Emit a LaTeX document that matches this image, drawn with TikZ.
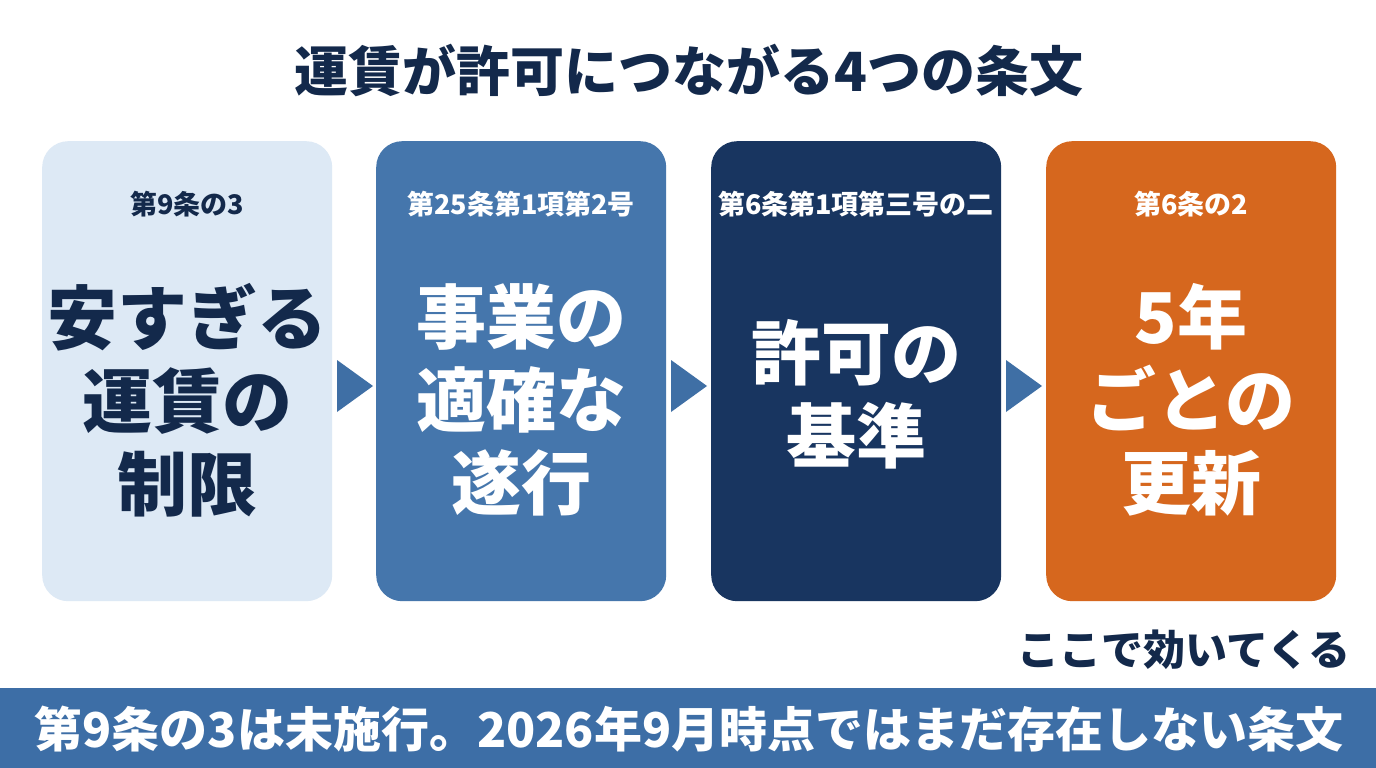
\documentclass[tikz,border=0pt]{standalone}
\usepackage{fontspec}
\setmainfont{Noto Sans CJK JP}
\definecolor{navy}{HTML}{13294B}
\definecolor{lightb}{HTML}{DDE9F5}
\definecolor{midb}{HTML}{4576AC}
\definecolor{darkb}{HTML}{183560}
\definecolor{orng}{HTML}{D6671E}
\definecolor{arr}{HTML}{3F6FA5}
\definecolor{band}{HTML}{3D6EA6}
\begin{document}
\begin{tikzpicture}[x=1pt,y=-1pt,
 box/.style={rounded corners=26pt,minimum width=290pt,minimum height=460pt,anchor=north west,inner sep=0},
 lab/.style={font=\bfseries\fontsize{27}{27}\selectfont},
 big/.style={font=\bfseries\fontsize{70}{83}\selectfont,align=center},
 tri/.style={fill=arr}]
\fill[white] (0,0) rectangle (1376,768);
\node[font=\bfseries\fontsize{54}{54}\selectfont,text=navy] (title) at (689,70) {運賃が許可につながる4つの条文};
\node[box,fill=lightb] (b1) at (42,141) {};
\node[box,fill=midb] (b2) at (376,141) {};
\node[box,fill=darkb] (b3) at (711,141) {};
\node[box,fill=orng] (b4) at (1046,141) {};
\node[lab,text=navy] (l1) at (187,204) {第9条の3};
\node[lab,text=white] (l2) at (521,204) {第25条第1項第2号};
\node[lab,text=white] (l3) at (856,204) {第6条第1項第三号の二};
\node[lab,text=white] (l4) at (1191,204) {第6条の2};
\node[big,text=navy] (t1) at (187,400) {安すぎる\\運賃の\\制限};
\node[big,text=white] (t2) at (521,400) {事業の\\適確な\\遂行};
\node[big,text=white] (t3) at (856,394) {許可の\\基準};
\node[big,text=white] (t4) at (1191,400) {5年\\ごとの\\更新};
\fill[tri] (337,360) -- (373,386) -- (337,412) -- cycle;
\fill[tri] (671,360) -- (707,386) -- (671,412) -- cycle;
\fill[tri] (1006,360) -- (1042,386) -- (1006,412) -- cycle;
\node[font=\bfseries\fontsize{42}{42}\selectfont,text=navy,anchor=east] (note) at (1354,650) {ここで効いてくる};
\fill[band] (0,688) rectangle (1376,768);
\node[font=\bfseries\fontsize{48}{48}\selectfont,text=white] (foot) at (689,729) {第9条の3は未施行。2026年9月時点ではまだ存在しない条文};
\end{tikzpicture}
\end{document}
